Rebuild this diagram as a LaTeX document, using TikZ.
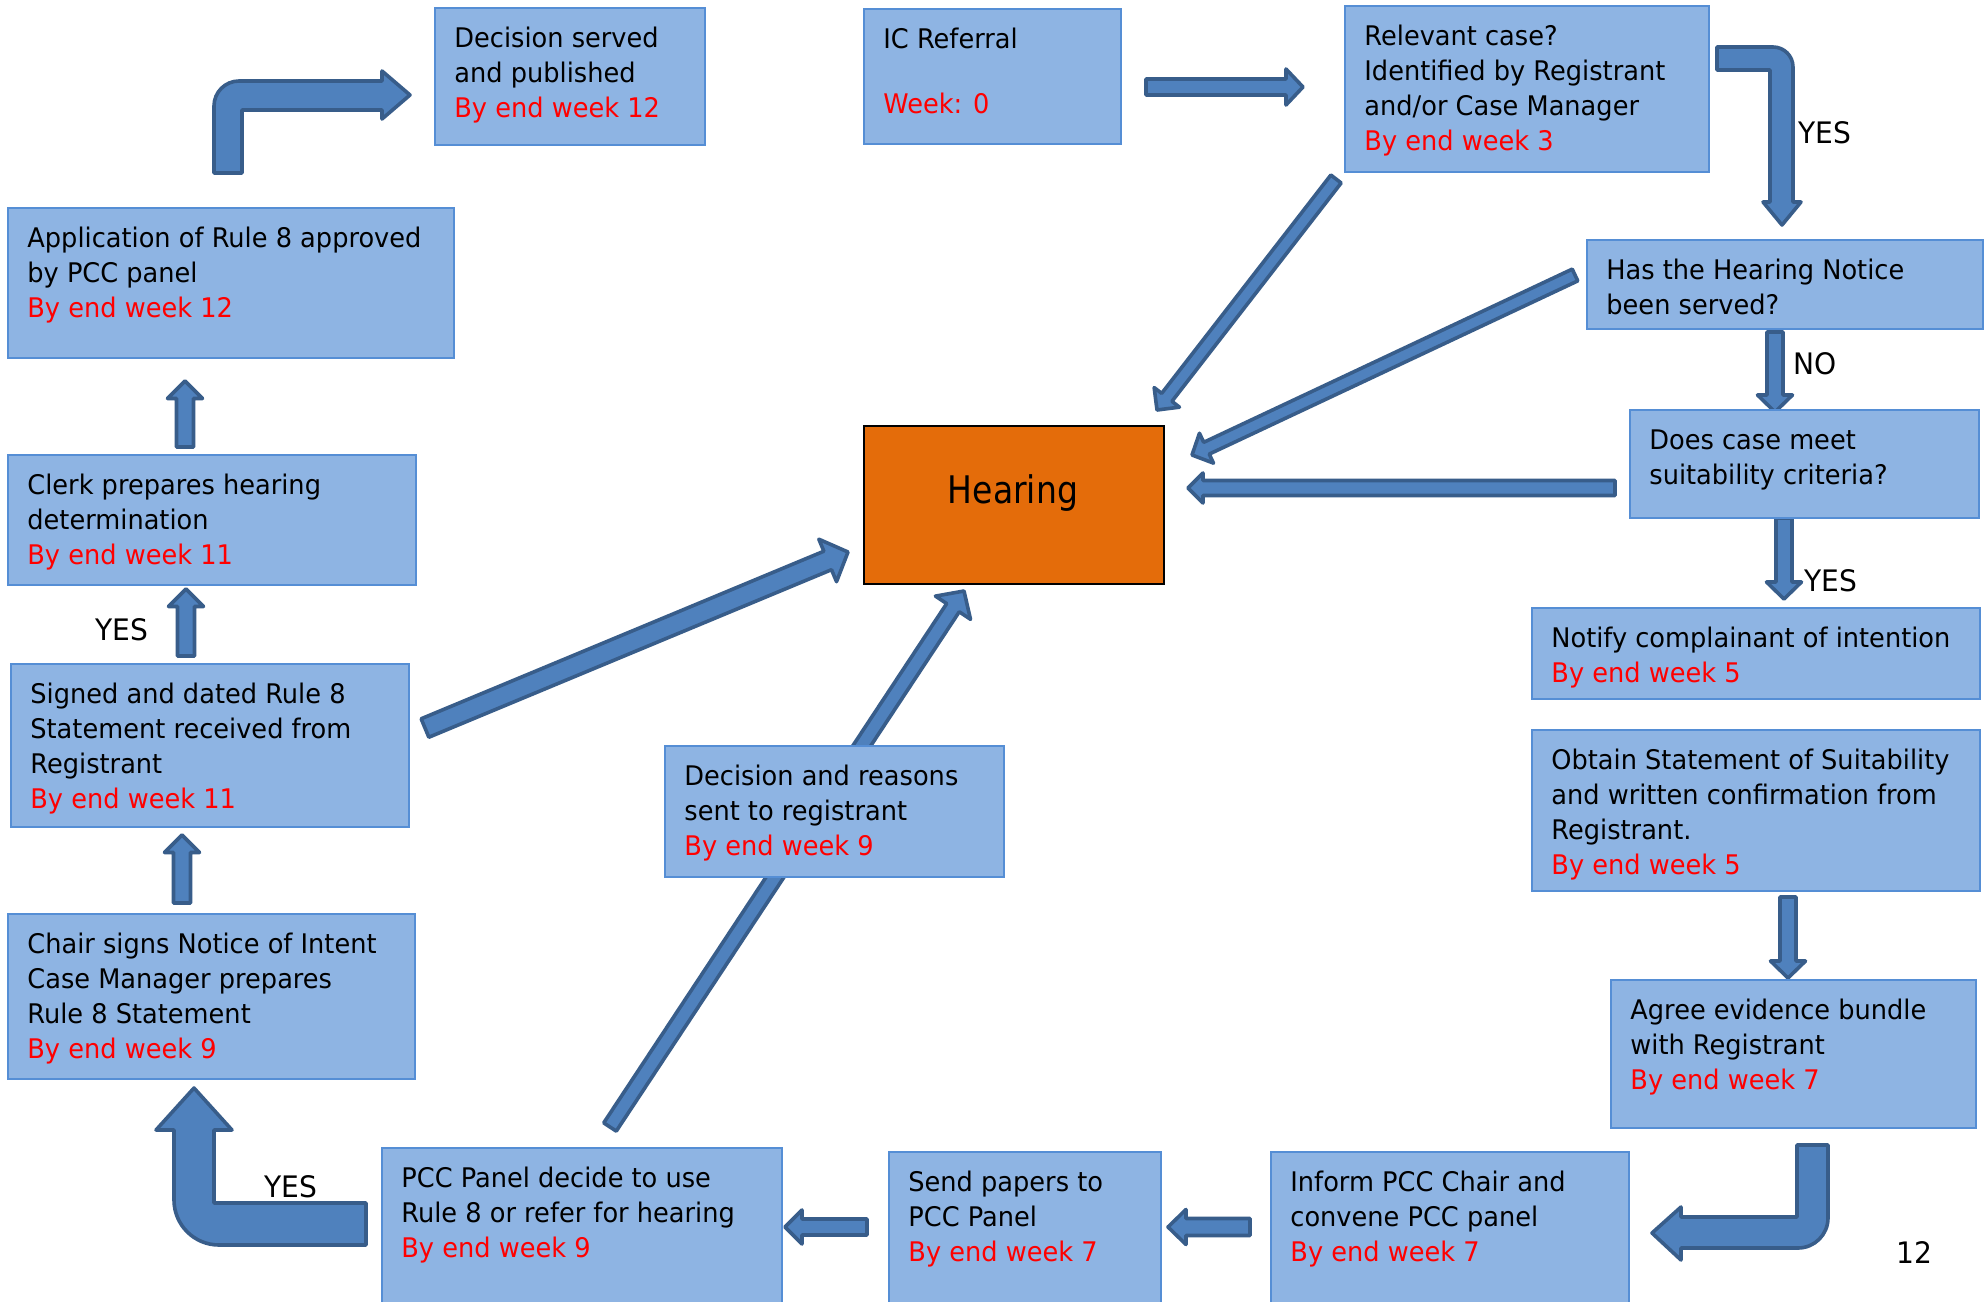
\documentclass[tikz,border=0pt]{standalone}
\usepackage{fontspec}
\setmainfont{DejaVu Sans}[FakeStretch=0.95]
\newfontfamily\hearfont{DejaVu Sans}[FakeStretch=0.87]
\usetikzlibrary{calc}
\definecolor{boxfill}{HTML}{8EB4E3}
\definecolor{boxline}{HTML}{558ED5}
\definecolor{arrfill}{HTML}{4F81BD}
\definecolor{arrline}{HTML}{385D8A}
\definecolor{hearfill}{HTML}{E46C0A}
\definecolor{wkred}{HTML}{FF0000}
\newcommand\rd[1]{\textcolor{wkred}{#1}}
\newcommand\fstrut{\rule{0pt}{12.5pt}}
\tikzset{
  flowbox/.style={draw=boxline, fill=boxfill, line width=1pt, inner sep=0pt, anchor=north west},
  boxtext/.style={anchor=north west, inner sep=0pt, align=left, font=\fontsize{13.5pt}{17.5pt}\selectfont},
  blockarr/.style={fill=arrfill, draw=arrline, line width=1.8pt, line join=round},
  lbl/.style={anchor=base, inner sep=0pt, font=\fontsize{14.8pt}{17.5pt}\selectfont}
}
% name, x1, y1, x2, y2, text  (image pixel coordinates, y downwards)
\newcommand\flow[6]{%
  \node[flowbox, minimum width={(#4-#2)*0.5pt}, minimum height={(#5-#3)*0.5pt}] (#1) at (#2,-#3) {};
  \node[boxtext] (#1-t) at (#2+20,-#3-15) {\fstrut #6};
}
% start, tip, shaft half width, head half width, head length (pixels)
\newcommand\blk[5]{%
  \coordinate (bkS) at (#1);
  \coordinate (bkT) at (#2);
  \coordinate (bkH) at ($(bkT)!#5*0.5pt!(bkS)$);
  \draw[blockarr] ($(bkS)!#3*0.5pt!90:(bkT)$) -- ($(bkH)!#3*0.5pt!-90:(bkS)$)
     -- ($(bkH)!#4*0.5pt!-90:(bkS)$) -- (bkT) -- ($(bkH)!#4*0.5pt!90:(bkS)$)
     -- ($(bkH)!#3*0.5pt!90:(bkS)$) -- ($(bkS)!#3*0.5pt!-90:(bkT)$) -- cycle;
}
\begin{document}
\begin{tikzpicture}[x=0.5pt, y=0.5pt]
\useasboundingbox (0,0) rectangle (1988,-1302);
\clip (0,0) rectangle (1988,-1302);
\fill[white] (0,0) rectangle (1988,-1302);

% ---------- straight block arrows ----------
\blk{1146,-87}{1303,-87}{8}{18}{17}
\blk{1336,-179}{1157,-410}{6.5}{16}{16}
\blk{1575,-275}{1192,-455}{6.5}{16.5}{16}
\blk{1615,-488}{1188,-488}{7.5}{15}{15}
\blk{425,-728}{848,-552}{10}{23}{22}
\blk{610,-1127}{964,-591}{7.5}{21}{20}
\blk{185,-447}{185,-381}{8.5}{17.5}{17.5}
\blk{186,-656}{186,-589}{8.5}{17.5}{17.5}
\blk{182,-903}{182,-835}{8.5}{17.5}{17.5}
\blk{1775,-332}{1775,-412}{8}{17.5}{17}
\blk{1784,-518}{1784,-599}{8}{17.5}{17}
\blk{1788,-897}{1788,-978}{8}{17.5}{17}
\blk{1250,-1227}{1168,-1227}{8.5}{17.5}{18}
\blk{867,-1227}{785,-1227}{8}{17}{17}

% ---------- bent block arrows ----------
\draw[blockarr] (214,-173) -- (214,-106) arc(180:90:25) -- (382,-81) -- (382,-71)
  -- (410,-95) -- (382,-119) -- (382,-110) -- (242,-110) -- (242,-173) -- cycle;
\draw[blockarr] (1717,-47) -- (1773,-47) arc(90:0:20) -- (1793,-202) -- (1801,-202)
  -- (1782,-225) -- (1763,-202) -- (1770,-202) -- (1770,-70) -- (1717,-70) -- cycle;
\draw[blockarr] (366,-1203) -- (214,-1203) -- (214,-1130) -- (232,-1130) -- (194,-1088)
  -- (156,-1130) -- (174,-1130) -- (174,-1200) arc(180:270:45) -- (366,-1245) -- cycle;
\draw[blockarr] (1797,-1145) -- (1828,-1145) -- (1828,-1218) arc(0:-90:30) -- (1681,-1248)
  -- (1681,-1260) -- (1652,-1233) -- (1681,-1207) -- (1681,-1217) -- (1797,-1217) -- cycle;

% ---------- boxes ----------
\flow{dserved}{434}{7}{704}{144}{Decision served\\and published\\\rd{By end week 12}}
\flow{ic}{863}{8}{1120}{143}{IC Referral\\[15pt]\rd{Week: 0}}
\flow{relevant}{1344}{5}{1708}{171}{Relevant case?\\Identified by Registrant\\and/or Case Manager\\\rd{By end week 3}}
\flow{notice}{1586}{239}{1982}{328}{Has the Hearing Notice\\been served?}
\flow{suitable}{1629}{409}{1978}{517}{Does case meet\\suitability criteria?}
\flow{notify}{1531}{607}{1979}{698}{Notify complainant of intention\\\rd{By end week 5}}
\flow{obtain}{1531}{729}{1979}{890}{Obtain Statement of Suitability\\and written confirmation from\\Registrant.\\\rd{By end week 5}}
\flow{agree}{1610}{979}{1975}{1127}{Agree evidence bundle\\with Registrant\\\rd{By end week 7}}
\flow{inform}{1270}{1151}{1628}{1312}{Inform PCC Chair and\\convene PCC panel\\\rd{By end week 7}}
\flow{send}{888}{1151}{1160}{1312}{Send papers to\\PCC Panel\\\rd{By end week 7}}
\flow{panel}{381}{1147}{781}{1312}{PCC Panel decide to use\\Rule 8 or refer for hearing\\\rd{By end week 9}}
\flow{reasons}{664}{745}{1003}{876}{Decision and reasons\\sent to registrant\\\rd{By end week 9}}
\flow{chair}{7}{913}{414}{1078}{Chair signs Notice of Intent\\Case Manager prepares\\Rule 8 Statement\\\rd{By end week 9}}
\flow{signed}{10}{663}{408}{826}{Signed and dated Rule 8\\Statement received from\\Registrant\\\rd{By end week 11}}
\flow{clerk}{7}{454}{415}{584}{Clerk prepares hearing\\determination\\\rd{By end week 11}}
\flow{approved}{7}{207}{453}{357}{Application of Rule 8 approved\\by PCC panel\\\rd{By end week 12}}

% ---------- hearing ----------
\node[draw=black, fill=hearfill, line width=1pt, inner sep=0pt, anchor=north west,
      minimum width=150pt, minimum height=79pt] (hearing) at (863,-425) {};
\node[anchor=base, inner sep=0pt, font=\hearfont\fontsize{19pt}{22pt}\selectfont] (hearing-t) at (1013,-503) {Hearing};

% ---------- labels ----------
\node[lbl] (yes1) at (1825,-143) {YES};
\node[lbl] (no1) at (1815,-374) {NO};
\node[lbl] (yes2) at (1831,-591) {YES};
\node[lbl] (yes3) at (122,-640) {YES};
\node[lbl] (yes4) at (291,-1197) {YES};
\node[lbl] (pgno) at (1914,-1263) {12};
\end{tikzpicture}
\end{document}
